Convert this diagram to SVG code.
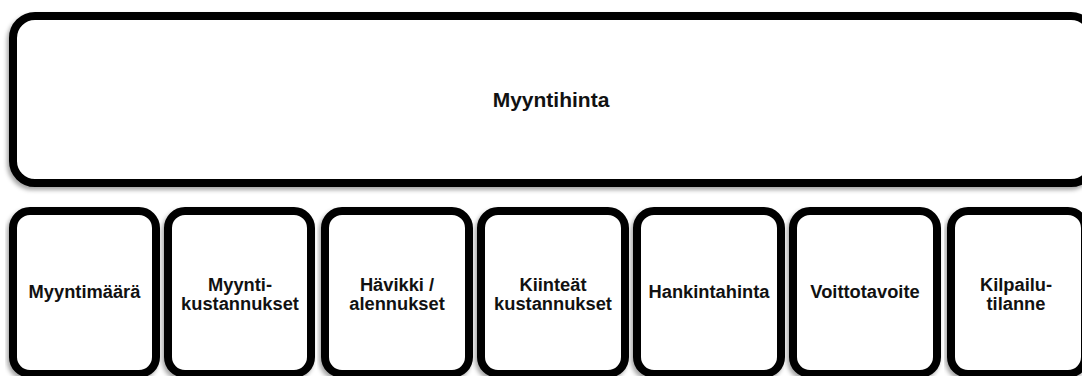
<svg xmlns="http://www.w3.org/2000/svg" width="1082" height="376" viewBox="0 0 1082 376">
  <defs>
    <filter id="shade" x="-5%" y="-5%" width="110%" height="115%">
      <feDropShadow dx="-2" dy="3" stdDeviation="2" flood-color="#000" flood-opacity="0.35"/>
    </filter>
  </defs>
  <style>
    .box { fill: #fff; stroke: #000; stroke-width: 8; filter: url(#shade); }
    .lbl { font-family: "Liberation Sans", Arial, sans-serif; font-weight: bold; fill: #111; text-anchor: middle; }
    .top { font-size: 21px; }
    .sub { font-size: 18.3px; }
  </style>
  <rect width="1082" height="376" fill="#fff"/>

  <g id="myyntihinta">
    <rect class="box" x="13" y="16" width="1080" height="167" rx="22" ry="22"/>
    <text class="lbl top" x="551" y="107">Myyntihinta</text>
  </g>

  <g id="myyntimaara">
    <rect class="box" x="13" y="211" width="143" height="163" rx="17" ry="17"/>
    <text class="lbl sub" x="84.5" y="298">Myyntimäärä</text>
  </g>

  <g id="myyntikustannukset">
    <rect class="box" x="168" y="211" width="143" height="163" rx="17" ry="17"/>
    <text class="lbl sub" x="240" y="290.5">Myynti-</text>
    <text class="lbl sub" x="240" y="310">kustannukset</text>
  </g>

  <g id="havikki">
    <rect class="box" x="325" y="211" width="144" height="163" rx="17" ry="17"/>
    <text class="lbl sub" x="397" y="290.5">Hävikki /</text>
    <text class="lbl sub" x="397" y="310">alennukset</text>
  </g>

  <g id="kiinteat">
    <rect class="box" x="481" y="211" width="144" height="163" rx="17" ry="17"/>
    <text class="lbl sub" x="553" y="290.5">Kiinteät</text>
    <text class="lbl sub" x="553" y="310">kustannukset</text>
  </g>

  <g id="hankintahinta">
    <rect class="box" x="637" y="211" width="144" height="163" rx="17" ry="17"/>
    <text class="lbl sub" x="709" y="298">Hankintahinta</text>
  </g>

  <g id="voittotavoite">
    <rect class="box" x="793" y="211" width="144" height="163" rx="17" ry="17"/>
    <text class="lbl sub" x="865" y="298">Voittotavoite</text>
  </g>

  <g id="kilpailutilanne">
    <rect class="box" x="951" y="211" width="134" height="163" rx="17" ry="17"/>
    <text class="lbl sub" x="1016" y="290.5">Kilpailu-</text>
    <text class="lbl sub" x="1016" y="310">tilanne</text>
  </g>

  <g id="connectors"/>
</svg>
